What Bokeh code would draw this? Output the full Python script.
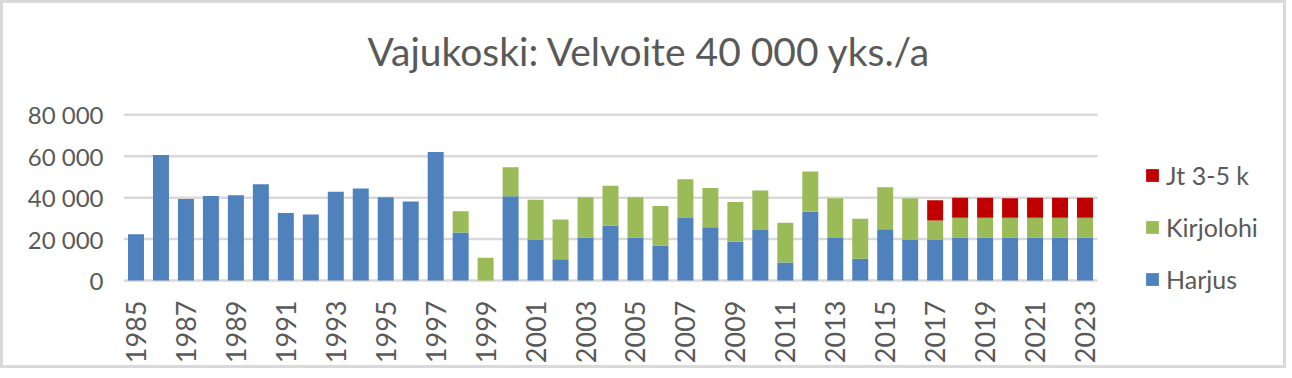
from bokeh.plotting import figure
from bokeh.models import ColumnDataSource, FixedTicker, Legend, LegendItem, Label
from bokeh.embed import file_html
from bokeh.resources import INLINE
import math

years = list(range(1985, 2024))
harjus = [22300, 60600, 39400, 40800, 41100, 46500, 32600, 31900, 42900, 44400,
          40200, 38100, 62100, 23200, 0, 40700, 19800, 10200, 20800, 26500,
          20800, 16900, 30200, 25700, 18700, 24400, 8700, 33200, 20500, 10500,
          24700, 19800, 19800, 20800, 20800, 20800, 20800, 20800, 20800]
kirjolohi = [0, 0, 0, 0, 0, 0, 0, 0, 0, 0,
             0, 0, 0, 10200, 11000, 14000, 19200, 19300, 19400, 19300,
             19400, 19100, 18700, 19000, 19200, 19000, 19200, 19400, 19200, 19300,
             20300, 19900, 9200, 9500, 9500, 9500, 9500, 9500, 9500]
jt = [0] * 32 + [9700, 9700, 9700, 9400, 9700, 9700, 9700]
series_names = ["Harjus", "Kirjolohi", "Jt 3-5 k"]
series_colors = ["#4F81BD", "#9BBB59", "#C00000"]
y_ticks = [0, 20000, 40000, 60000, 80000]
y_tick_labels = ["0", "20 000", "40 000", "60 000", "80 000"]
x_ticks = [y for y in years if y % 2 == 1]
title_text = "Vajukoski: Velvoite 40 000 yks./a"

src = ColumnDataSource(dict(year=years, Harjus=harjus, Kirjolohi=kirjolohi, Jt=jt))

FONT = "Lato"
TXT = "#595959"

# layout (page pixels): frame spans the canvas to the right and top so that the
# legend and title (drawn as annotations) are not clipped
BORDER = 3
frame_left_px = 123
zero_px = 280
x_lo = years[0] - 0.5
x_hi = years[-1] + 0.5
px_per_year = 974 / len(years)
canvas_w, canvas_h = 1286, 368
frame_w = canvas_w - (frame_left_px - BORDER)
x_end = x_lo + frame_w / px_per_year
px_per_unit = 165.7 / 80000
y_start = -20 / px_per_unit
y_end = (zero_px - BORDER) / px_per_unit

p = figure(width=canvas_w, height=canvas_h, output_backend="svg", toolbar_location=None,
           x_range=(x_lo, x_end), y_range=(y_start, y_end),
           min_border_left=frame_left_px - BORDER, min_border_right=0, min_border_top=0,
           min_border_bottom=71)
p.styles = {"border": "3px solid #D9D9D9"}
p.outline_line_color = None
p.background_fill_color = "white"
p.border_fill_color = "white"

# horizontal gridlines across the category span only
p.segment(x0=[x_lo] * len(y_ticks), x1=[x_hi] * len(y_ticks), y0=y_ticks, y1=y_ticks,
          line_color="#D9D9D9", line_width=2.5)

renderers = p.vbar_stack(["Harjus", "Kirjolohi", "Jt"], x="year", width=0.64,
                         color=series_colors, line_color=None, source=src)

# axes
p.yaxis.ticker = FixedTicker(ticks=y_ticks)
p.yaxis.major_label_overrides = {t: l for t, l in zip(y_ticks, y_tick_labels)}
p.xaxis.ticker = FixedTicker(ticks=x_ticks)
p.xaxis.major_label_orientation = math.pi / 2
for ax in (p.xaxis, p.yaxis):
    ax.axis_line_color = None
    ax.major_tick_line_color = None
    ax.minor_tick_line_color = None
    ax.major_label_text_font = FONT
    ax.major_label_text_color = TXT
    ax.major_tick_in = 0
    ax.major_tick_out = 0
p.yaxis.major_label_text_font_size = "24px"
p.xaxis.major_label_text_font_size = "27px"
p.yaxis.major_label_standoff = 20
p.xaxis.major_label_standoff = 0

p.xgrid.grid_line_color = None
p.ygrid.grid_line_color = None

# title
title = Label(x=x_lo + (367 - frame_left_px) / px_per_year,
              y=(zero_px - 50) / px_per_unit, text=title_text,
              text_align="left", text_baseline="alphabetic", text_font=FONT,
              text_font_size="39px", text_color=TXT)
p.add_layout(title)

# legend (reverse order: top is Jt)
items = [LegendItem(label=series_names[i], renderers=[renderers[i]]) for i in (2, 1, 0)]
legend = Legend(items=items, location=(1021, 5), padding=0, margin=0,
                border_line_alpha=0, background_fill_alpha=0,
                glyph_width=16, glyph_height=16, label_height=32, spacing=20,
                label_standoff=6, label_text_font=FONT, label_text_font_size="25px",
                label_text_color=TXT)
p.add_layout(legend)

open("out.html", "w").write(file_html(p, INLINE))
